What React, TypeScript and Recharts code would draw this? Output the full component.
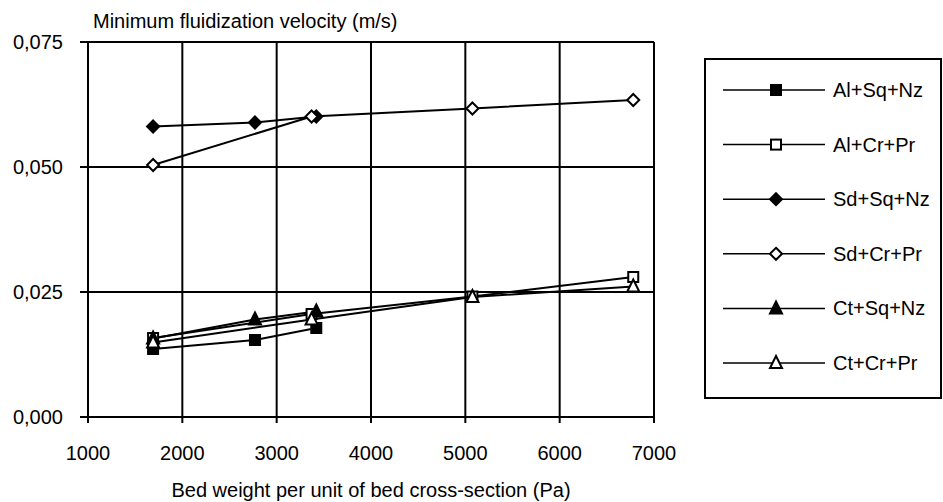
import React from 'react';
import { LineChart, Line, XAxis, YAxis, CartesianGrid } from 'recharts';

// bed weight (Pa) at which each group of mixtures was measured
const xSqNz = [1690, 2770, 3420];
const xCrPr = [1690, 3370, 5075, 6780];

// minimum fluidization velocity (m/s)
const alSqNz = [0.0136, 0.0154, 0.0178];
const alCrPr = [0.0158, 0.0206, 0.0241, 0.028];
const sdSqNz = [0.0581, 0.0589, 0.0601];
const sdCrPr = [0.0504, 0.0601, 0.0617, 0.0634];
const ctSqNz = [0.0157, 0.0195, 0.0211];
const ctCrPr = [0.0149, 0.0195, 0.024, 0.0261];

const xTicks = [1000, 2000, 3000, 4000, 5000, 6000, 7000];
const yTicks = [0, 0.025, 0.05, 0.075];

type Shape = 'square' | 'diamond' | 'triangle';

const series: { name: string; xs: number[]; ys: number[]; shape: Shape; filled: boolean }[] = [
  { name: 'Al+Sq+Nz', xs: xSqNz, ys: alSqNz, shape: 'square', filled: true },
  { name: 'Al+Cr+Pr', xs: xCrPr, ys: alCrPr, shape: 'square', filled: false },
  { name: 'Sd+Sq+Nz', xs: xSqNz, ys: sdSqNz, shape: 'diamond', filled: true },
  { name: 'Sd+Cr+Pr', xs: xCrPr, ys: sdCrPr, shape: 'diamond', filled: false },
  { name: 'Ct+Sq+Nz', xs: xSqNz, ys: ctSqNz, shape: 'triangle', filled: true },
  { name: 'Ct+Cr+Pr', xs: xCrPr, ys: ctCrPr, shape: 'triangle', filled: false },
];

const FONT = '"Liberation Sans", Arial, sans-serif';

function Marker({ cx, cy, shape, filled }: { cx: number; cy: number; shape: Shape; filled: boolean }) {
  const fill = filled ? '#000' : '#fff';
  const common = { fill, stroke: '#000', strokeWidth: 2 };
  if (shape === 'square') {
    return <rect x={cx - 5} y={cy - 5} width={10} height={10} {...common} />;
  }
  if (shape === 'diamond') {
    return <polygon points={`${cx},${cy - 6} ${cx + 6},${cy} ${cx},${cy + 6} ${cx - 6},${cy}`} {...common} />;
  }
  return <polygon points={`${cx},${cy - 7} ${cx + 6},${cy + 5} ${cx - 6},${cy + 5}`} {...common} />;
}

function LegendBox() {
  return (
    <svg
      width={238}
      height={341}
      style={{ position: 'absolute', left: 704, top: 58 }}
    >
      <rect x={1} y={1} width={236} height={339} fill="#fff" stroke="#000" strokeWidth={2} />
      {series.map((s, i) => {
        const y = 32 + i * 54.6;
        return (
          <g key={s.name}>
            <line x1={19} x2={121} y1={y} y2={y} stroke="#000" strokeWidth={1.5} />
            <Marker cx={72} cy={y} shape={s.shape} filled={s.filled} />
            <text x={129} y={y + 7} fontSize={20} fontFamily={FONT} fill="#000">
              {s.name}
            </text>
          </g>
        );
      })}
    </svg>
  );
}

export default function App() {
  return (
    <div style={{ position: 'absolute', left: 0, top: 0, width: 943, height: 502, background: '#fff' }}>
      <LineChart width={943} height={502} margin={{ top: 42, right: 289, bottom: 0, left: 0 }}>
        <CartesianGrid stroke="#000" strokeWidth={2} />
        <XAxis
          type="number"
          dataKey="x"
          domain={[1000, 7000]}
          ticks={xTicks}
          height={85}
          stroke="#000"
          strokeWidth={2}
          tickSize={6}
          tickMargin={23}
          tick={{ fill: '#000', fontSize: 20, fontFamily: FONT }}
          label={{
            content: ({ viewBox }: any) => (
              <text
                x={viewBox.x + viewBox.width / 2}
                y={viewBox.y + 80}
                textAnchor="middle"
                fontSize={20}
                fontFamily={FONT}
                fill="#000"
              >
                Bed weight per unit of bed cross-section (Pa)
              </text>
            ),
          }}
        />
        <YAxis
          type="number"
          domain={[0, 0.075]}
          ticks={yTicks}
          width={88}
          stroke="#000"
          strokeWidth={2}
          tickSize={8}
          tickMargin={17}
          tickFormatter={(v: number) => v.toFixed(3).replace('.', ',')}
          tick={{ fill: '#000', fontSize: 20, fontFamily: FONT }}
          label={{
            content: ({ viewBox }: any) => (
              <text x={viewBox.x + viewBox.width + 5} y={28} fontSize={20} fontFamily={FONT} fill="#000">
                Minimum fluidization velocity (m/s)
              </text>
            ),
          }}
        />
        {series.map((s) => (
          <Line
            key={s.name}
            name={s.name}
            data={s.xs.map((x, i) => ({ x, y: s.ys[i] }))}
            dataKey="y"
            type="linear"
            stroke="#000"
            strokeWidth={2}
            isAnimationActive={false}
            dot={(p: any) => (
              <Marker key={`${s.name}-${p.index}`} cx={p.cx} cy={p.cy} shape={s.shape} filled={s.filled} />
            )}
            activeDot={false}
          />
        ))}
      </LineChart>
      <LegendBox />
    </div>
  );
}
